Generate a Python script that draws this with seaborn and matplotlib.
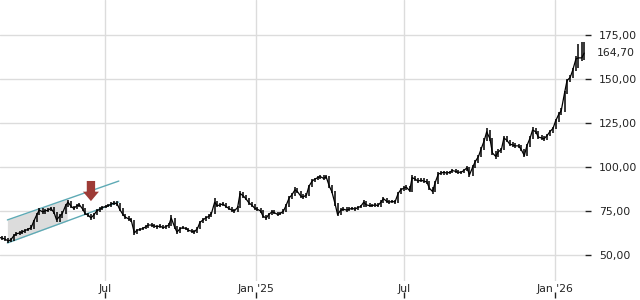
import numpy as np
import pandas as pd
import matplotlib
matplotlib.use("Agg")
import matplotlib.pyplot as plt
import matplotlib.dates as mdates
import seaborn as sns

# ---- data: readings twice a week (Fri / Tue), starting Fri 2024-02-23 ----
first_friday = "2024-02-23"
n_fridays = 103
close = [60, 59.5, 59, 58, 58.5, 61, 62, 62.5, 63, 64,
         64.5, 65.5, 69, 73, 75.5, 74.5, 75, 75.5, 76.5, 74,
         70, 72, 73.5, 78, 80, 77.5, 76.5, 78, 78.5, 76,
         73.5, 72.5, 71, 73, 75, 76, 77, 77.5, 78, 79,
         79.5, 79, 76, 73, 71.5, 70.5, 70, 62.5, 64, 64.5,
         65, 66, 67, 67, 66.5, 66, 66.5, 65.5, 66, 67,
         71, 66, 63, 65, 65.5, 65, 64, 63.5, 63, 65,
         68.5, 70, 71, 72, 73.5, 80, 78, 78.5, 79, 77.5,
         76.5, 75.5, 75, 77, 85, 83.5, 82, 79.5, 78.5, 76.5,
         76, 75, 72, 71, 73, 74.5, 74, 73, 73.5, 75,
         78, 82.5, 84, 87, 86, 83.5, 83, 84, 89, 92,
         93, 94, 94.5, 93.5, 94.5, 89, 86, 79, 73, 75.5,
         76, 75.5, 76, 76.5, 76, 77, 77.5, 80, 78.5, 78,
         78, 78.5, 78, 80, 82, 80.5, 80, 80.5, 80, 85,
         87, 88, 88.5, 86.5, 94, 93, 92, 92.5, 92, 91.5,
         88, 86, 91, 96, 96.5, 97, 96.5, 97, 98, 97.5,
         97, 97, 98, 99.5, 95.5, 100, 103, 106, 110, 115,
         120, 116, 108, 106, 108.5, 110, 116.5, 115, 113, 112.5,
         112, 112, 110, 106.5, 112, 116.5, 121, 120, 117, 116.5,
         116, 118, 120, 122, 126, 130, 132, 142, 149, 151,
         155, 161.5, 162, 162, 164.7]
low = [59, 58.5, 58, 57, 57.5, 58, 60.5, 61.5, 62, 62.5,
       63.5, 64, 65, 68.5, 72.5, 73.5, 73.5, 74.5, 75, 73,
       68.5, 69, 71, 73, 77, 76.5, 75.5, 76, 77, 75,
       72.5, 71.5, 70, 70.5, 72.5, 74.5, 75.5, 76.5, 77, 77.5,
       78.5, 78, 75, 72, 70.5, 69.5, 69, 61.5, 62, 63.5,
       64, 64.5, 65.5, 66, 65.5, 65, 65.5, 64.5, 65, 65.5,
       66.5, 65, 62, 62.5, 64.5, 64, 63, 62.5, 62, 62.5,
       64.5, 68, 69.5, 70.5, 71.5, 73, 77, 77, 78, 76.5,
       75.5, 74.5, 74, 74.5, 76.5, 82.5, 81, 78.5, 77.5, 75.5,
       75, 74, 71, 70, 70.5, 72.5, 73, 72, 72.5, 73,
       74.5, 77.5, 82, 83.5, 85, 82.5, 82, 82.5, 83.5, 88.5,
       91.5, 92.5, 93, 92.5, 93, 88, 85, 78, 72, 72.5,
       75, 74.5, 75, 75.5, 75, 75.5, 76.5, 77, 77.5, 77,
       77, 77.5, 77, 77.5, 79.5, 79.5, 79, 79.5, 79, 79.5,
       84.5, 86.5, 87, 85.5, 86, 92, 91, 91.5, 91, 90.5,
       87, 84.5, 85.5, 90.5, 95.5, 95.5, 95.5, 96, 96.5, 96.5,
       96, 96, 96.5, 97.5, 94.5, 95, 99.5, 102.5, 105.5, 109.5,
       114.5, 115, 107, 104.5, 105.5, 108, 109.5, 114, 112, 111.5,
       111, 111, 109, 105.5, 106, 111.5, 116, 119, 116, 115.5,
       115, 115.5, 117.5, 119.5, 121.5, 125.5, 129.5, 131.5, 141.5, 148.5,
       150.5, 154.5, 156, 160, 161]
high = [61, 61, 60.5, 59.5, 59.5, 62, 63, 63.5, 64, 65,
        65.5, 67, 70, 74, 76.5, 76.5, 76, 76.5, 77.5, 77,
        74.5, 73, 75, 79, 81, 80.5, 78, 79, 79.5, 79,
        76.5, 74, 73, 74, 76, 77, 78, 78.5, 79, 80,
        80.5, 80.5, 79.5, 76.5, 73.5, 72, 71, 70, 65, 65.5,
        66, 67, 68, 68, 67.5, 67, 67.5, 67, 67, 68,
        72.5, 71, 66.5, 66, 66.5, 66, 65.5, 64.5, 64, 66,
        69.5, 71, 72, 73, 74.5, 82.5, 80.5, 79.5, 80, 79.5,
        78, 77, 76, 78, 86.5, 85.5, 84, 82.5, 80, 79,
        77.5, 76.5, 75.5, 72.5, 74, 75.5, 75.5, 74.5, 74.5, 76,
        79, 83.5, 85, 88.5, 88, 86.5, 84.5, 85, 90, 93,
        94, 95, 95.5, 95.5, 95.5, 95, 89.5, 86.5, 79.5, 76.5,
        77, 77, 77, 77.5, 77.5, 78, 78.5, 81, 80.5, 79.5,
        79, 79.5, 79.5, 81, 83, 82.5, 81.5, 81.5, 81, 86,
        88, 89, 89.5, 89, 95.5, 95, 93.5, 93.5, 93.5, 93,
        92, 88.5, 92, 97, 97.5, 98, 98, 98, 99, 99,
        98.5, 98, 99, 100.5, 100, 101, 104, 107, 111.5, 116.5,
        122, 121, 116.5, 109, 110, 111, 117.5, 117.5, 115.5, 114,
        113.5, 113, 112.5, 110.5, 113, 117.5, 122.5, 122, 120.5, 118,
        117.5, 119, 121, 123, 127, 131, 133.5, 143, 150, 152.5,
        156.5, 163, 170, 171, 171]
last_price = 164.70
y_ticks = [50, 75, 100, 125, 150, 175]
x_tick_dates = ["2024-07-01", "2025-01-01", "2025-07-01", "2026-01-01"]
x_tick_labels = ["Jul", "Jan '25", "Jul", "Jan '26"]

# channel annotation
channel_dates = ["2024-03-04", "2024-07-18"]
channel_upper = [69.9, 92.0]
channel_lower = [56.8, 80.1]
shade_end = "2024-05-16"
arrow_date = "2024-06-14"
arrow_tip = 80.6

fridays = pd.date_range(first_friday, periods=n_fridays, freq="7D")
tuesdays = fridays[:-1] + pd.Timedelta(days=4)
dates = fridays.append(tuesdays).sort_values()
df = pd.DataFrame({"date": dates, "close": close, "high": high, "low": low})

sns.set_theme(style="white")
plt.rcParams["font.family"] = ["DejaVu Sans"]

fig = plt.figure(figsize=(6.4, 3.0), dpi=100)
ax = fig.add_axes([0.0, 19 / 300, 585 / 640, 281 / 300])

ax.set_axisbelow(True)
ax.grid(True, color="#dcdcdc", linewidth=1.0)
for s in ax.spines.values():
    s.set_visible(False)

# channel
cdn = mdates.date2num(pd.to_datetime(channel_dates))
se = mdates.date2num(pd.Timestamp(shade_end))
frac = (se - cdn[0]) / (cdn[1] - cdn[0])
up_end = channel_upper[0] + frac * (channel_upper[1] - channel_upper[0])
lo_end = channel_lower[0] + frac * (channel_lower[1] - channel_lower[0])
ax.fill_between([cdn[0], se], [channel_lower[0], lo_end], [channel_upper[0], up_end],
                color="#d9d9d9", alpha=0.9, linewidth=0, zorder=1)
ax.plot(cdn, channel_upper, color="#5eaab5", lw=1.0, zorder=2)
ax.plot(cdn, channel_lower, color="#5eaab5", lw=1.0, zorder=2)

# price bars
ax.vlines(mdates.date2num(df["date"]), df["low"], df["high"], color="black", lw=1.1, zorder=3)
sns.lineplot(data=df, x="date", y="close", ax=ax, color="black", lw=0.9, zorder=3)

# arrow
ax.annotate("", xy=(mdates.date2num(pd.Timestamp(arrow_date)), arrow_tip),
            xytext=(0, 14.5), textcoords="offset points",
            arrowprops=dict(arrowstyle="simple,head_length=0.68,head_width=1.15,tail_width=0.6",
                            mutation_scale=10, color="#9e3b36", lw=0,
                            shrinkA=0, shrinkB=0), zorder=5)

ax.set_xlim(mdates.date2num(pd.Timestamp("2024-02-24")), mdates.date2num(pd.Timestamp("2026-02-07")))
ax.set_ylim(35.2, 194.9)

ax.set_xlabel("")
ax.set_ylabel("")
xt = mdates.date2num(pd.to_datetime(x_tick_dates))
ax.set_xticks(xt)
ax.set_xticklabels(x_tick_labels)
ax.tick_params(axis="x", length=0, pad=2, labelsize=7.8, colors="#222222")

ax.yaxis.tick_right()
ax.set_yticks(y_ticks)
ax.set_yticklabels([f"{v:.2f}".replace(".", ",") for v in y_ticks])
ax.tick_params(axis="y", which="both", right=True, left=False, length=4, width=1,
               pad=6, labelsize=7.8, colors="#222222")
ax.text(1.0 + 12 / 585, last_price, f"{last_price:.2f}".replace(".", ","),
        transform=ax.get_yaxis_transform(), ha="left", va="center",
        fontsize=7.8, color="#222222")

# bottom tick marks
sec = ax.secondary_xaxis(-17 / 281)
sec.set_xticks(xt)
sec.set_xticklabels([])
sec.tick_params(axis="x", direction="in", length=4, width=1, colors="#222222")
for s in sec.spines.values():
    s.set_visible(False)

fig.savefig("out.png", dpi=100)
